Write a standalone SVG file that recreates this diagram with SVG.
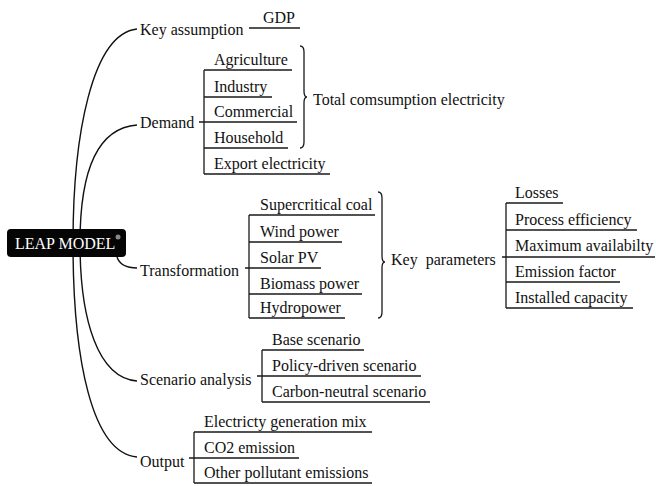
<svg xmlns="http://www.w3.org/2000/svg" width="656" height="486" viewBox="0 0 656 486">
<style>
text{font-family:"Liberation Serif","Times New Roman",serif;font-size:16px;fill:#111}
.ln{stroke:#1a1a1a;stroke-width:1.3;fill:none}
.cv{stroke:#111;stroke-width:1.4;fill:none}
</style>
<rect width="656" height="486" fill="#fff"/>
<g id="connectors">
<path class="cv" d="M73,243 C73,135 92,34 137,29"/>
<path class="cv" d="M80,243 C80,170 98,128 137,125"/>
<path class="cv" d="M117,257 C120,266 128,268 137,268"/>
<path class="cv" d="M80,243 C80,320 98,378 137,381"/>
<path class="cv" d="M73,243 C73,360 92,453 137,457"/>
<!-- key assumption -->
<path class="ln" d="M249,28 H300"/>
<!-- demand -->
<path class="ln" d="M199,122 H297 M204,70 V174 M204,70 H292 M204,97 H272 M204,148 H288 M204,174 H330"/>
<path class="ln" d="M300,46 Q304,46 304,52 L304,91 Q304,97 307,97 Q304,97 304,103 L304,142 Q304,148 300,148"/>
<!-- transformation -->
<path class="ln" d="M245,268 H321 M249,215 V318 M249,215 H375 M249,242 H342 M249,294 H362 M249,318 H345"/>
<path class="ln" d="M378,192 Q382,192 382,198 L382,256 Q382,262 385,262 Q382,262 382,268 L382,312 Q382,318 378,318"/>
<!-- key parameters -->
<path class="ln" d="M502,257 H655 M506,203 V308 M506,203 H563 M506,230 H637 M506,282 H620 M506,308 H633"/>
<!-- scenario -->
<path class="ln" d="M257,376 H421 M262,350 V402 M262,350 H364 M262,402 H430"/>
<!-- output -->
<path class="ln" d="M189,458 H299 M194,432 V483 M194,432 H372 M194,483 H372"/>
</g>
<g id="leap-model">
<rect x="7" y="229" width="119" height="28" rx="4" fill="#050505"/>
<text x="15" y="249" style="fill:#fff">LEAP MODEL</text>
<circle cx="118" cy="237" r="2.5" fill="#888"/>
</g>
<g id="key-assumption"><text x="140" y="35">Key assumption</text></g>
<g id="gdp"><text x="263" y="23">GDP</text></g>
<g id="demand"><text x="140" y="128">Demand</text></g>
<g id="agriculture"><text x="214" y="65">Agriculture</text></g>
<g id="industry"><text x="214" y="92">Industry</text></g>
<g id="commercial"><text x="214" y="117">Commercial</text></g>
<g id="household"><text x="214" y="143">Household</text></g>
<g id="export"><text x="214" y="169">Export electricity</text></g>
<g id="total"><text x="313" y="105">Total comsumption electricity</text></g>
<g id="transformation"><text x="140" y="276">Transformation</text></g>
<g id="supercritical"><text x="260" y="210">Supercritical coal</text></g>
<g id="wind"><text x="260" y="237">Wind power</text></g>
<g id="solar"><text x="260" y="263">Solar PV</text></g>
<g id="biomass"><text x="260" y="289">Biomass power</text></g>
<g id="hydro"><text x="260" y="313">Hydropower</text></g>
<g id="key-parameters"><text x="391" y="265" xml:space="preserve">Key  parameters</text></g>
<g id="losses"><text x="515" y="198">Losses</text></g>
<g id="process"><text x="515" y="225">Process efficiency</text></g>
<g id="maximum"><text x="515" y="251">Maximum availabilty</text></g>
<g id="emission-factor"><text x="515" y="277">Emission factor</text></g>
<g id="installed"><text x="515" y="303">Installed capacity</text></g>
<g id="scenario"><text x="140" y="385">Scenario analysis</text></g>
<g id="base"><text x="272" y="345">Base scenario</text></g>
<g id="policy"><text x="272" y="371">Policy-driven scenario</text></g>
<g id="carbon"><text x="272" y="397">Carbon-neutral scenario</text></g>
<g id="output"><text x="140" y="467">Output</text></g>
<g id="mix"><text x="204" y="427">Electricty generation mix</text></g>
<g id="co2"><text x="204" y="453">CO2 emission</text></g>
<g id="other"><text x="204" y="478">Other pollutant emissions</text></g>
</svg>
